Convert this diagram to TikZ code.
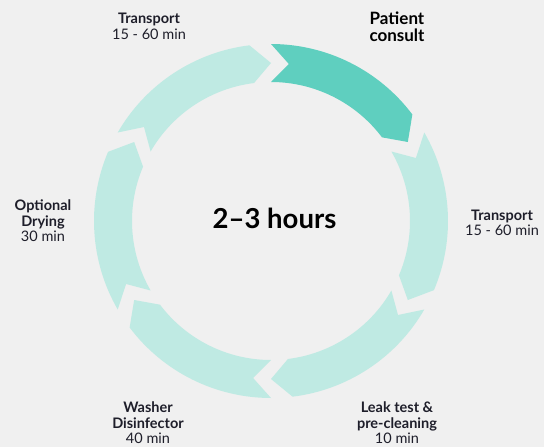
\documentclass[tikz,border=0pt]{standalone}
\usepackage{fontspec}
\setmainfont{Lato}
\definecolor{bgc}{HTML}{F0F0F0}
\definecolor{segl}{HTML}{BFEAE3}
\definecolor{segd}{HTML}{5FCFBF}
\definecolor{txt}{HTML}{1E1E2A}
\tikzset{
  lbl/.style={align=center, text=txt, inner sep=0pt, font=\fontsize{14.5}{15.5}\selectfont},
  lblbig/.style={align=center, text=black, inner sep=0pt, font=\fontsize{17}{17.5}\selectfont\bfseries},
  hub/.style={text=black, inner sep=0pt, font=\fontsize{27.5}{30}\selectfont\bfseries}
}
\begin{document}
\begin{tikzpicture}[x=1pt,y=1pt]
\fill[bgc] (0,0) rectangle (544,-447);
\useasboundingbox (0,0) rectangle (544,-447);
\begin{scope}[shift={(271,-221)}]
\foreach \a/\c in {90/segd, 30/segl, -30/segl, -90/segl, -150/segl, 150/segl}{
  \pgfmathsetmacro{\b}{\a-60}
  \pgfmathsetmacro{\be}{\a-53}
  \pgfmathsetmacro{\an}{\a-6.5}
  \fill[\c] (\a:177pt) arc[start angle=\a, end angle=\be, radius=177pt]
     -- (\b:158pt) -- (\be:139pt)
     arc[start angle=\be, end angle=\a, radius=139pt]
     -- (\an:158pt) -- cycle;
}
\end{scope}
\node[hub] (hours) at (274.5,-218) {2–3 hours};
\node[lblbig] (consult) at (397,-26.5) {Patient\\consult};
\node[lbl] (transA) at (149,-26.5) {\textbf{Transport}\\15 - 60 min};
\node[lbl] (transB) at (502,-223) {\textbf{Transport}\\15 - 60 min};
\node[lbl] (leak) at (397,-423) {\textbf{Leak test \&}\\\textbf{pre-cleaning}\\10 min};
\node[lbl] (washer) at (148,-423) {\textbf{Washer}\\\textbf{Disinfector}\\40 min};
\node[lbl] (dry) at (43,-221) {\textbf{Optional}\\\textbf{Drying}\\30 min};
\end{tikzpicture}
\end{document}
